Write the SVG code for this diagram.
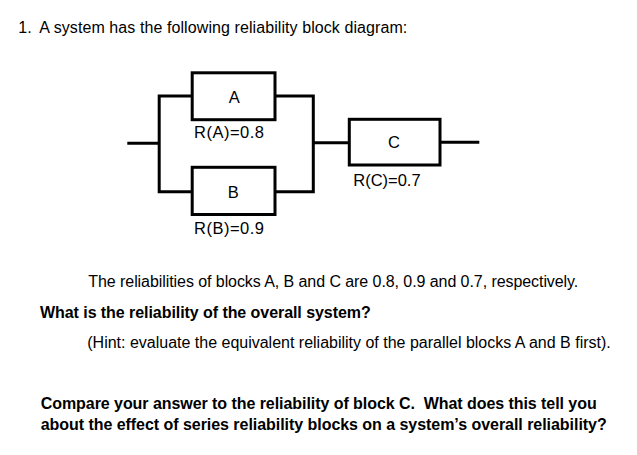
<svg xmlns="http://www.w3.org/2000/svg" width="637" height="455" viewBox="0 0 637 455">
<style>
.t{font-family:"Liberation Sans",Arial,sans-serif;font-size:16px;fill:#000}
.l{font-size:16.5px}
.b{font-weight:bold}
.box{fill:#fff;stroke:#000;stroke-width:3}
.ln{fill:none;stroke:#000;stroke-width:3;stroke-linejoin:miter}
</style>
<rect width="637" height="455" fill="#fff"/>
<text class="t" y="33.3"><tspan x="18.3">1.</tspan><tspan x="39.3" textLength="368" lengthAdjust="spacing">A system has the following reliability block diagram:</tspan></text>
<g id="connectors">
<path class="ln" d="M127.3,143.3 H159.2"/>
<path class="ln" d="M192.2,96 H159.2 V191.7 H192.2"/>
<path class="ln" d="M275,96 H313.3 V191.7 H275"/>
<path class="ln" d="M313.3,142.8 H349.3"/>
<path class="ln" d="M440,142.3 H479.3"/>
</g>
<g id="node-A">
<rect class="box" x="192.2" y="72.8" width="82.8" height="46.9"/>
<text class="t l" x="234.3" y="103.3" text-anchor="middle">A</text>
<text class="t l" x="194" y="138.3" textLength="70" lengthAdjust="spacing">R(A)=0.8</text>
</g>
<g id="node-B">
<rect class="box" x="192.2" y="167.3" width="82.8" height="47.2"/>
<text class="t l" x="233.3" y="198.3" text-anchor="middle">B</text>
<text class="t l" x="194" y="234" textLength="70" lengthAdjust="spacing">R(B)=0.9</text>
</g>
<g id="node-C">
<rect class="box" x="349.3" y="119.3" width="90.7" height="45.7"/>
<text class="t l" x="394" y="148.3" text-anchor="middle">C</text>
<text class="t l" x="353.3" y="186" textLength="67.3" lengthAdjust="spacing">R(C)=0.7</text>
</g>
<text class="t" x="88.3" y="287.3" textLength="490" lengthAdjust="spacing">The reliabilities of blocks A, B and C are 0.8, 0.9 and 0.7, respectively.</text>
<text class="t b" x="40" y="318.3" textLength="330.7" lengthAdjust="spacing">What is the reliability of the overall system?</text>
<text class="t" x="87.3" y="347.7" textLength="523.4" lengthAdjust="spacing">(Hint: evaluate the equivalent reliability of the parallel blocks A and B first).</text>
<text class="t b" x="40.7" y="409" textLength="556" lengthAdjust="spacing" xml:space="preserve">Compare your answer to the reliability of block C.  What does this tell you</text>
<text class="t b" x="40.7" y="430" textLength="566" lengthAdjust="spacing">about the effect of series reliability blocks on a system’s overall reliability?</text>
</svg>
